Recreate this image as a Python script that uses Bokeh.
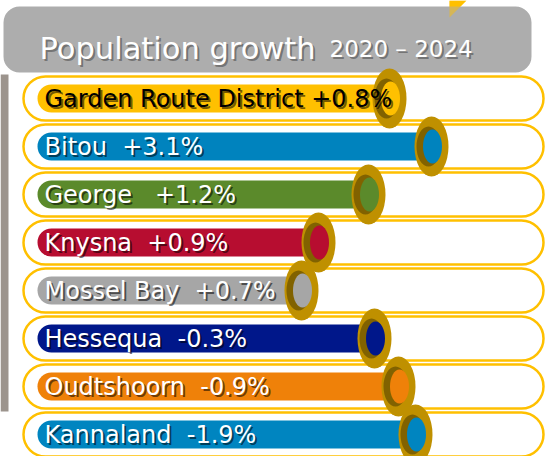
from bokeh.plotting import figure
from bokeh.models import ColumnDataSource, Range1d
from bokeh.embed import file_html
from bokeh.resources import INLINE
from bokeh.core.properties import value

# ---------------- data ----------------
title_main = "Population growth"
title_years = "2020 \u2013 2024"

names = ["Garden Route District", "Bitou", "George", "Knysna",
         "Mossel Bay", "Hessequa", "Oudtshoorn", "Kannaland"]
growth = [0.8, 3.1, 1.2, 0.9, 0.7, -0.3, -0.9, -1.9]
# visual slider position of each row in the infographic (not proportional to growth)
slider_pos = [389, 431, 368, 318, 301, 374, 398, 415]
bar_colors = ["#FFC000", "#0083BE", "#5B8A2B", "#B70D30",
              "#A6A6A6", "#00178A", "#EF8109", "#0085C0"]
label_colors = ["#000000"] + ["#FFFFFF"] * 7
gaps = [1, 2, 3, 2, 2, 2, 2, 2]

# ---------------- layout ----------------
FONT = "DejaVu Sans"
NBSP = "\u00a0"
W, H = 548, 456
row0, row_step = 98.0, 48.0
n = len(names)
yc = [row0 + row_step * i for i in range(n)]
labels = [f"{nm}{NBSP * g}{v:+.1f}%" for nm, g, v in zip(names, gaps, growth)]

src = ColumnDataSource(dict(
    y=yc,
    pos=slider_pos,
    color=bar_colors,
    label=labels,
    lcolor=label_colors,
    track_top=[y - 22 for y in yc],
    track_bot=[y + 22 for y in yc],
    bar_top=[y - 14 for y in yc],
    bar_bot=[y + 14 for y in yc],
    shadow_x=[x - 3 for x in slider_pos],
    inner_x=[x + 1 for x in slider_pos],
))

p = figure(width=W, height=H, x_range=Range1d(0, W), y_range=Range1d(H, 0),
           output_backend="svg", toolbar_location=None, min_border=0,
           x_axis_location=None, y_axis_location=None)
p.grid.visible = False
p.outline_line_color = None
p.background_fill_color = "white"
p.border_fill_color = "white"

# left accent strip
p.quad(left=[0], right=[8], top=[74], bottom=[411], fill_color="#9C948D",
       line_color=None)
# title banner
tri_x, tri_y = [449, 466, 449], [0, 0, 17]
p.patch(x=tri_x, y=tri_y, fill_color="#FFC000", line_color=None)
p.quad(left=[3], right=[531], top=[6], bottom=[72], fill_color="#ADADAD",
       line_color=None, border_radius=16)
p.patch(x=tri_x, y=tri_y, fill_color="#FFC000", fill_alpha=0.5, line_color=None)
for dx, col, al in [(2, "#444444", 0.55), (0, "#FFFFFF", 1.0)]:
    p.text(x=[39], y=[48], text=[title_main], text_font=value(FONT),
           text_font_size="30.5px", text_color=col, text_alpha=al,
           text_baseline="alphabetic", x_offset=dx, y_offset=dx)
    p.text(x=[329], y=[48], text=[title_years], text_font=value(FONT),
           text_font_size="23px", text_color=col, text_alpha=al,
           text_baseline="alphabetic", x_offset=dx, y_offset=dx)

# tracks
p.quad(left=23, right=543, top="track_top", bottom="track_bot", source=src,
       fill_color="white", line_color="#FFC000", line_width=2.5, border_radius=22)
# bars
p.quad(left=37, right="pos", top="bar_top", bottom="bar_bot", source=src,
       fill_color="color", line_color=None, border_radius=14)
# knobs
p.ellipse(x="pos", y="y", width=34, height=60, source=src,
          fill_color="#BF9000", line_color=None)
p.ellipse(x="shadow_x", y="y", width=24, height=40, source=src,
          fill_color="#4f3c00", fill_alpha=0.55, line_color=None)
p.ellipse(x="inner_x", y="y", width=19, height=34, source=src,
          fill_color="color", line_color=None)

# labels
p.text(x=44, y="y", text="label", source=src, text_font=value(FONT),
       text_font_size="24px", text_color="#000000", text_alpha=0.55,
       text_baseline="middle", x_offset=2, y_offset=2)
p.text(x=44, y="y", text="label", source=src, text_font=value(FONT),
       text_font_size="24px", text_color="lcolor",
       text_baseline="middle")

open("out.html", "w").write(file_html(p, INLINE))
